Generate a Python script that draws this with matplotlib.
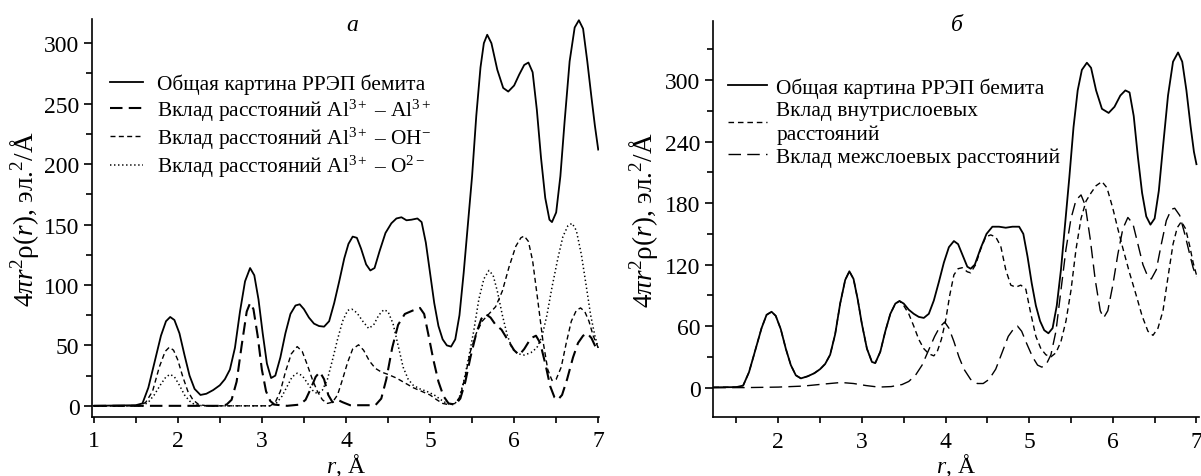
import matplotlib
matplotlib.use("Agg")
import matplotlib.pyplot as plt
from matplotlib.ticker import MultipleLocator

plt.rcParams['font.family'] = ['Liberation Serif', 'DejaVu Serif']
plt.rcParams['mathtext.fontset'] = 'custom'
plt.rcParams['mathtext.rm'] = 'Liberation Serif'
plt.rcParams['mathtext.it'] = 'Liberation Serif:italic'
plt.rcParams['lines.scale_dashes'] = False

# ---- panel a: total curve and three contributions ----
r_tot_a = [1.0, 1.5, 1.58, 1.65, 1.72, 1.8, 1.86, 1.91, 1.96, 2.02, 2.08, 2.14, 2.2, 2.27, 2.34, 2.42,
           2.5, 2.56, 2.62, 2.68, 2.74, 2.8, 2.86, 2.91, 2.96, 3.01, 3.06, 3.11, 3.16, 3.22, 3.28, 3.34,
           3.4, 3.45, 3.5, 3.56, 3.62, 3.68, 3.74, 3.8, 3.86, 3.92, 3.98, 4.03, 4.08, 4.13, 4.18, 4.24,
           4.29, 4.34, 4.4, 4.47, 4.54, 4.6, 4.66, 4.72, 4.78, 4.85, 4.9, 4.95, 5.0, 5.05, 5.1, 5.15,
           5.2, 5.25, 5.3, 5.35, 5.4, 5.45, 5.5, 5.55, 5.6, 5.64, 5.68, 5.73, 5.8, 5.87, 5.93, 6.0,
           6.06, 6.12, 6.17, 6.22, 6.27, 6.32, 6.37, 6.42, 6.45, 6.5, 6.55, 6.6, 6.66, 6.72, 6.77, 6.82,
           6.87, 6.92, 6.96, 7.0]
tot_a = [0, 0.5, 2, 15, 35, 58, 70, 73.5, 71, 60, 42, 25, 14, 9, 10, 13,
         17, 22, 30, 48, 78, 103, 114, 108, 88, 60, 35, 23, 25, 40, 60, 76,
         83, 84, 80, 73, 68, 66, 65.5, 70, 85, 103, 122, 134, 140, 139, 130, 117,
         112, 114, 128, 143, 151, 155, 156, 153.5, 154, 155, 152, 135, 110, 85, 66, 55,
         50, 49, 55, 75, 110, 150, 190, 240, 280, 300, 307, 300, 278, 263, 260, 265,
         274, 282, 284, 276, 245, 205, 172, 154, 152, 160, 190, 235, 285, 313, 319, 312,
         285, 255, 232, 212]

r_alal = [1.0, 2.5, 2.58, 2.64, 2.7, 2.76, 2.82, 2.86, 2.9, 2.95, 3.0, 3.05, 3.1, 3.15, 3.3, 3.45,
          3.52, 3.58, 3.64, 3.69, 3.74, 3.79, 3.84, 3.9, 3.96, 4.05, 4.35, 4.42, 4.48, 4.55, 4.62, 4.7,
          4.8, 4.88, 4.93, 4.98, 5.04, 5.1, 5.16, 5.22, 5.3, 5.36, 5.42, 5.48, 5.55, 5.61, 5.66, 5.72,
          5.78, 5.85, 5.92, 6.0, 6.06, 6.12, 6.2, 6.26, 6.31, 6.37, 6.43, 6.48, 6.52, 6.57, 6.63, 6.7,
          6.76, 6.82, 6.87, 6.92, 6.96, 7.0]
alal = [0, 0, 1, 5, 20, 50, 78, 85, 80, 58, 30, 12, 4, 1, 0, 1,
        5, 14, 24, 28, 22, 9, 3, 5, 3, 0.5, 0.5, 6, 22, 48, 67, 76,
        79, 81, 76, 59, 38, 20, 8, 2, 1, 6, 20, 40, 60, 72, 76, 73,
        67, 63, 55, 46, 42, 47, 56, 58, 52, 35, 16, 7, 5, 9, 22, 40,
        52, 58, 60, 56, 50, 45]

r_oh = [1.0, 1.55, 1.62, 1.7, 1.78, 1.85, 1.9, 1.95, 2.0, 2.06, 2.12, 2.18, 2.25, 2.35, 3.1, 3.16,
        3.22, 3.28, 3.35, 3.42, 3.48, 3.54, 3.6, 3.66, 3.72, 3.78, 3.84, 3.9, 3.96, 4.02, 4.08, 4.15,
        4.21, 4.28, 4.35, 4.42, 4.5, 4.6, 4.7, 4.8, 4.9, 5.0, 5.08, 5.15, 5.22, 5.3, 5.36, 5.42,
        5.48, 5.55, 5.62, 5.7, 5.78, 5.86, 5.94, 6.02, 6.08, 6.12, 6.17, 6.22, 6.28, 6.34, 6.4, 6.45,
        6.5, 6.56, 6.62, 6.68, 6.74, 6.79, 6.84, 6.89, 6.94, 7.0]
oh = [0, 0, 3, 12, 32, 45, 48.5, 46, 38, 24, 12, 5, 1, 0, 0, 3,
      12, 28, 43, 49, 45, 34, 22, 12, 5, 2, 3, 9, 22, 36, 47, 50.5,
      46, 37, 31, 28, 26, 23, 19, 15, 12, 9, 5, 2, 1, 2, 8, 25,
      45, 60, 70, 76, 82, 95, 115, 132, 139, 140.5, 136, 120, 88, 55, 30, 21,
      22, 32, 52, 70, 79, 81, 78, 70, 58, 48]

r_o2 = [1.0, 1.58, 1.65, 1.72, 1.8, 1.86, 1.91, 1.96, 2.02, 2.08, 2.14, 2.2, 2.3, 3.1, 3.17, 3.24,
        3.3, 3.36, 3.42, 3.48, 3.54, 3.6, 3.66, 3.72, 3.78, 3.84, 3.9, 3.96, 4.02, 4.07, 4.13, 4.2,
        4.27, 4.33, 4.39, 4.45, 4.5, 4.56, 4.62, 4.68, 4.74, 4.8, 4.88, 4.96, 5.05, 5.13, 5.2, 5.28,
        5.34, 5.4, 5.46, 5.52, 5.58, 5.64, 5.7, 5.75, 5.8, 5.86, 5.92, 5.98, 6.05, 6.12, 6.2, 6.27,
        6.33, 6.39, 6.45, 6.52, 6.58, 6.64, 6.69, 6.74, 6.8, 6.86, 6.91, 6.96, 7.0]
o2 = [0, 0, 3, 9, 18, 24, 26, 24, 17, 9, 4, 1, 0, 0, 2, 8,
      16, 24, 27, 25, 19, 13, 10, 13, 22, 38, 55, 70, 79, 80, 77, 70,
      64, 67, 75, 79.5, 78, 68, 50, 32, 22, 17, 14, 12, 9, 5, 2, 1,
      5, 20, 40, 62, 88, 105, 112, 108, 95, 75, 58, 47, 43, 42, 44, 48,
      57, 75, 98, 122, 140, 149, 151, 145, 125, 98, 75, 58, 48]

# ---- panel б: total curve, intra- and inter-layer contributions ----
r_tot_b = [1.0, 1.5, 1.58, 1.65, 1.72, 1.8, 1.86, 1.92, 1.97, 2.03, 2.09, 2.15, 2.21, 2.27, 2.35, 2.43,
           2.5, 2.56, 2.62, 2.68, 2.74, 2.8, 2.85, 2.9, 2.95, 3.0, 3.06, 3.12, 3.16, 3.22, 3.28, 3.34,
           3.4, 3.45, 3.5, 3.56, 3.62, 3.68, 3.74, 3.8, 3.86, 3.92, 3.98, 4.04, 4.1, 4.15, 4.2, 4.26,
           4.3, 4.35, 4.42, 4.49, 4.56, 4.64, 4.72, 4.8, 4.88, 4.93, 4.98, 5.03, 5.08, 5.13, 5.18, 5.23,
           5.28, 5.33, 5.38, 5.43, 5.48, 5.53, 5.58, 5.63, 5.69, 5.74, 5.8, 5.87, 5.95, 6.02, 6.09, 6.15,
           6.2, 6.25, 6.3, 6.35, 6.4, 6.45, 6.5, 6.55, 6.6, 6.66, 6.72, 6.78, 6.83, 6.88, 6.93, 6.97, 7.0]
tot_b = [0, 0.5, 2, 15, 35, 58, 71, 74, 70, 57, 38, 22, 12, 9, 11, 14,
         18, 23, 32, 52, 82, 105, 113.5, 106, 86, 62, 38, 25, 24, 35, 55, 72,
         82, 84.5, 82, 76, 72, 69, 68, 72, 85, 103, 122, 137, 143, 140, 130, 118,
         116, 120, 136, 150, 157, 157, 156, 157, 157, 150, 128, 102, 80, 65, 56, 53,
         58, 80, 115, 160, 205, 254, 290, 310, 317, 312, 290, 272, 268, 274, 285, 290,
         288, 265, 225, 190, 167, 159, 165, 192, 235, 285, 318, 327, 318, 290, 255, 230, 218]

r_intra = [1.0, 1.5, 1.58, 1.65, 1.72, 1.8, 1.86, 1.92, 1.97, 2.03, 2.09, 2.15, 2.21, 2.27, 2.35, 2.43,
           2.5, 2.56, 2.62, 2.68, 2.74, 2.8, 2.85, 2.9, 2.95, 3.0, 3.06, 3.12, 3.16, 3.22, 3.28, 3.34,
           3.4, 3.45, 3.5, 3.56, 3.62, 3.68, 3.74, 3.8, 3.86, 3.9, 3.95, 4.0, 4.05, 4.1, 4.15, 4.2,
           4.26, 4.3, 4.36, 4.42, 4.48, 4.54, 4.6, 4.66, 4.72, 4.78, 4.84, 4.9, 4.96, 5.02, 5.08, 5.14,
           5.2, 5.26, 5.32, 5.38, 5.44, 5.5, 5.56, 5.62, 5.68, 5.74, 5.8, 5.87, 5.93, 6.0, 6.06, 6.12,
           6.2, 6.28, 6.35, 6.42, 6.48, 6.54, 6.6, 6.66, 6.72, 6.77, 6.82, 6.87, 6.92, 6.96, 7.0]
intra = [0, 0.5, 2, 15, 35, 58, 71, 74, 70, 57, 38, 22, 12, 9, 11, 14,
         18, 23, 32, 52, 82, 105, 113.5, 106, 86, 62, 38, 25, 24, 35, 55, 72,
         82, 84.5, 80, 72, 60, 47, 38, 33, 31, 35, 47, 65, 90, 110, 116, 117,
         113, 112, 120, 135, 147, 149, 147, 138, 115, 100, 98, 100, 96, 72, 50, 38,
         32, 30, 34, 45, 65, 95, 135, 165, 182, 190, 197, 201, 195, 175, 155, 136,
         112, 90, 70, 55, 51, 58, 75, 108, 140, 156, 162, 155, 138, 122, 110]

r_inter = [1.0, 1.6, 2.0, 2.3, 2.55, 2.75, 2.9, 3.05, 3.2, 3.35, 3.48, 3.56, 3.64, 3.72, 3.8, 3.87,
           3.93, 3.99, 4.04, 4.1, 4.16, 4.22, 4.3, 4.38, 4.45, 4.52, 4.6, 4.68, 4.75, 4.82, 4.86, 4.91,
           4.97, 5.04, 5.1, 5.15, 5.2, 5.26, 5.32, 5.38, 5.44, 5.5, 5.56, 5.62, 5.67, 5.73, 5.79, 5.85,
           5.89, 5.94, 6.0, 6.06, 6.12, 6.18, 6.24, 6.3, 6.36, 6.42, 6.46, 6.52, 6.58, 6.64, 6.7, 6.74,
           6.8, 6.86, 6.92, 6.96, 7.0]
inter = [0, 0, 0.5, 1.5, 3.5, 5, 4, 2, 0.5, 1, 3, 6, 12, 22, 37, 50,
         59, 64, 58, 45, 30, 18, 8, 4, 4, 8, 18, 35, 50, 58, 60, 55,
         43, 30, 22, 20, 22, 32, 55, 95, 135, 165, 183, 188, 178, 145, 105, 75,
         68, 75, 100, 130, 155, 166, 160, 140, 120, 108, 106, 115, 140, 163, 174, 175,
         168, 150, 130, 117, 108]

labels_a = ['Общая картина РРЭП бемита',
            'Вклад расстояний Al$^{3+}$ – Al$^{3+}$',
            'Вклад расстояний Al$^{3+}$ – OH$^{-}$',
            'Вклад расстояний Al$^{3+}$ – O$^{2-}$']
labels_b = ['Общая картина РРЭП бемита',
            'Вклад внутрислоевых\nрасстояний',
            'Вклад межслоевых расстояний']

ylabel = '4$\\pi r^2$ρ($r$), эл.$^2$/Å'
xlabel = '$r$, Å'

fig = plt.figure(figsize=(12.01, 4.77), dpi=100)
ax1 = fig.add_axes([0.0766, 0.1243, 0.4222, 0.8337])
ax2 = fig.add_axes([0.5937, 0.123, 0.4046, 0.8315])

lw = 1.3
ax1.plot(r_tot_a, tot_a, color='black', lw=lw, label=labels_a[0])
ax1.plot(r_alal, alal, color='black', lw=1.5, ls=(0, (9, 4.5)), label=labels_a[1])
ax1.plot(r_oh, oh, color='black', lw=1.0, ls=(0, (3.6, 2.4)), label=labels_a[2])
ax1.plot(r_o2, o2, color='black', lw=1.1, ls=(0, (1, 1.9)), label=labels_a[3])

ax2.plot(r_tot_b, tot_b, color='black', lw=lw, label=labels_b[0])
ax2.plot(r_intra, intra, color='black', lw=1.0, ls=(0, (4, 2.8)), label=labels_b[1])
ax2.plot(r_inter, inter, color='black', lw=1.0, ls=(0, (9, 4.5)), label=labels_b[2])

ax1.set_xlim(0.98, 7.01)
ax1.set_ylim(-9, 320)
ax1.yaxis.set_major_locator(MultipleLocator(50))
ax1.yaxis.set_minor_locator(MultipleLocator(25))

ax2.set_xlim(1.22, 7.03)
ax2.set_ylim(-29, 358)
ax2.yaxis.set_major_locator(MultipleLocator(60))
ax2.yaxis.set_minor_locator(MultipleLocator(30))

for ax in (ax1, ax2):
    ax.xaxis.set_major_locator(MultipleLocator(1))
    ax.xaxis.set_minor_locator(MultipleLocator(0.5))
    for side in ('top', 'right'):
        ax.spines[side].set_visible(False)
    for side in ('left', 'bottom'):
        ax.spines[side].set_linewidth(1.2)
    ax.tick_params(which='both', direction='out', width=1.2, labelsize=17)
    ax.tick_params(axis='y', which='major', length=6, pad=3)
    ax.tick_params(axis='y', which='minor', length=4)
    ax.tick_params(axis='x', which='both', length=4.5, pad=5)
    ax.set_xlabel(xlabel, fontsize=17, va='top')
    ax.set_ylabel(ylabel, fontsize=19.5)
    ax.xaxis.set_label_coords(0.5, -0.085)

ax1.yaxis.set_label_coords(-0.1, 0.5)
ax2.yaxis.set_label_coords(-0.11, 0.5)

ax1.text(0.513, 0.985, 'a', transform=ax1.transAxes, fontsize=17, style='italic',
         ha='center', va='center')
ax2.text(0.501, 0.99, 'б', transform=ax2.transAxes, fontsize=17, style='italic',
         ha='center', va='center')

ax1.legend(loc='upper left', bbox_to_anchor=(0.035, 0.862), frameon=False, fontsize=15.4,
           handlelength=1.55, handletextpad=0.65, labelspacing=0.1, borderpad=0, borderaxespad=0)
leg2 = ax2.legend(loc='upper left', bbox_to_anchor=(0.031, 0.858), frameon=False, fontsize=15.4,
                  handlelength=1.8, handletextpad=0.45, labelspacing=0.15, borderpad=0,
                  borderaxespad=0)
for t in leg2.get_texts():
    t.set_linespacing(1.3)

fig.savefig('out.png', dpi=100)
